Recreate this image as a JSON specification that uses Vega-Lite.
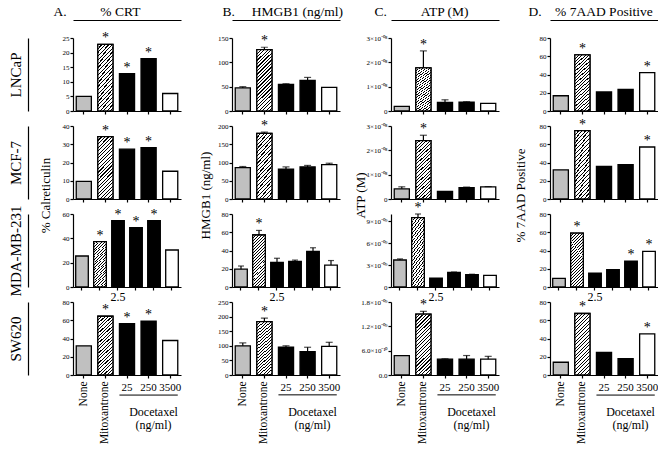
{
"$schema":"https://vega.github.io/schema/vega-lite/v6.json",
"padding":{"left":8,"top":4,"right":0,"bottom":0},
"data":{"values":[
{"line":"LNCaP","assay":"CRT","trt":"None","v":5,"hi":5,"s":0},
{"line":"LNCaP","assay":"CRT","trt":"Mitoxantrone","v":22.8,"hi":22.8,"s":1},
{"line":"LNCaP","assay":"CRT","trt":"25","v":12.8,"hi":12.8,"s":1},
{"line":"LNCaP","assay":"CRT","trt":"250","v":17.9,"hi":17.9,"s":1},
{"line":"LNCaP","assay":"CRT","trt":"3500","v":6,"hi":6,"s":0},
{"line":"LNCaP","assay":"HMGB1","trt":"None","v":47.5,"hi":50,"s":0},
{"line":"LNCaP","assay":"HMGB1","trt":"Mitoxantrone","v":126,"hi":131,"s":1},
{"line":"LNCaP","assay":"HMGB1","trt":"25","v":54.5,"hi":56,"s":0},
{"line":"LNCaP","assay":"HMGB1","trt":"250","v":63,"hi":69,"s":0},
{"line":"LNCaP","assay":"HMGB1","trt":"3500","v":48.5,"hi":48.5,"s":0},
{"line":"LNCaP","assay":"ATP","trt":"None","v":1.9e-9,"hi":1.9e-9,"s":0},
{"line":"LNCaP","assay":"ATP","trt":"Mitoxantrone","v":1.77e-8,"hi":2.47e-8,"s":1},
{"line":"LNCaP","assay":"ATP","trt":"25","v":3.5e-9,"hi":4.6e-9,"s":0},
{"line":"LNCaP","assay":"ATP","trt":"250","v":3.6e-9,"hi":3.8e-9,"s":0},
{"line":"LNCaP","assay":"ATP","trt":"3500","v":3.1e-9,"hi":3.1e-9,"s":0},
{"line":"LNCaP","assay":"7AAD","trt":"None","v":16.7,"hi":16.7,"s":0},
{"line":"LNCaP","assay":"7AAD","trt":"Mitoxantrone","v":61.4,"hi":61.4,"s":1},
{"line":"LNCaP","assay":"7AAD","trt":"25","v":20.8,"hi":20.8,"s":0},
{"line":"LNCaP","assay":"7AAD","trt":"250","v":23.8,"hi":23.8,"s":0},
{"line":"LNCaP","assay":"7AAD","trt":"3500","v":42,"hi":42,"s":1},
{"line":"MCF-7","assay":"CRT","trt":"None","v":9.7,"hi":9.7,"s":0},
{"line":"MCF-7","assay":"CRT","trt":"Mitoxantrone","v":34.2,"hi":34.2,"s":1},
{"line":"MCF-7","assay":"CRT","trt":"25","v":27.3,"hi":27.3,"s":1},
{"line":"MCF-7","assay":"CRT","trt":"250","v":28.2,"hi":28.2,"s":1},
{"line":"MCF-7","assay":"CRT","trt":"3500","v":15.2,"hi":15.2,"s":0},
{"line":"MCF-7","assay":"HMGB1","trt":"None","v":86,"hi":89,"s":0},
{"line":"MCF-7","assay":"HMGB1","trt":"Mitoxantrone","v":180,"hi":183,"s":1},
{"line":"MCF-7","assay":"HMGB1","trt":"25","v":82,"hi":88,"s":0},
{"line":"MCF-7","assay":"HMGB1","trt":"250","v":88,"hi":92,"s":0},
{"line":"MCF-7","assay":"HMGB1","trt":"3500","v":94,"hi":98,"s":0},
{"line":"MCF-7","assay":"ATP","trt":"None","v":4.2e-9,"hi":5e-9,"s":0},
{"line":"MCF-7","assay":"ATP","trt":"Mitoxantrone","v":2.4e-8,"hi":2.62e-8,"s":1},
{"line":"MCF-7","assay":"ATP","trt":"25","v":3.1e-9,"hi":3.1e-9,"s":0},
{"line":"MCF-7","assay":"ATP","trt":"250","v":4.7e-9,"hi":4.9e-9,"s":0},
{"line":"MCF-7","assay":"ATP","trt":"3500","v":5e-9,"hi":5.1e-9,"s":0},
{"line":"MCF-7","assay":"7AAD","trt":"None","v":32,"hi":32,"s":0},
{"line":"MCF-7","assay":"7AAD","trt":"Mitoxantrone","v":75,"hi":75,"s":1},
{"line":"MCF-7","assay":"7AAD","trt":"25","v":35.8,"hi":35.8,"s":0},
{"line":"MCF-7","assay":"7AAD","trt":"250","v":37.7,"hi":37.7,"s":0},
{"line":"MCF-7","assay":"7AAD","trt":"3500","v":57,"hi":57,"s":1},
{"line":"MDA-MB-231","assay":"CRT","trt":"None","v":25.5,"hi":25.5,"s":0},
{"line":"MDA-MB-231","assay":"CRT","trt":"Mitoxantrone","v":37.3,"hi":37.3,"s":1},
{"line":"MDA-MB-231","assay":"CRT","trt":"2.5","v":54.5,"hi":54.5,"s":1},
{"line":"MDA-MB-231","assay":"CRT","trt":"25","v":48.8,"hi":48.8,"s":1},
{"line":"MDA-MB-231","assay":"CRT","trt":"250","v":54.5,"hi":54.5,"s":1},
{"line":"MDA-MB-231","assay":"CRT","trt":"3500","v":30.4,"hi":30.4,"s":0},
{"line":"MDA-MB-231","assay":"HMGB1","trt":"None","v":19.5,"hi":23,"s":0},
{"line":"MDA-MB-231","assay":"HMGB1","trt":"Mitoxantrone","v":57,"hi":62,"s":1},
{"line":"MDA-MB-231","assay":"HMGB1","trt":"2.5","v":27,"hi":31.5,"s":0},
{"line":"MDA-MB-231","assay":"HMGB1","trt":"25","v":28,"hi":29.5,"s":0},
{"line":"MDA-MB-231","assay":"HMGB1","trt":"250","v":39,"hi":43,"s":0},
{"line":"MDA-MB-231","assay":"HMGB1","trt":"3500","v":24,"hi":29,"s":0},
{"line":"MDA-MB-231","assay":"ATP","trt":"None","v":3.7e-9,"hi":3.85e-9,"s":0},
{"line":"MDA-MB-231","assay":"ATP","trt":"Mitoxantrone","v":9.5e-9,"hi":1e-8,"s":1},
{"line":"MDA-MB-231","assay":"ATP","trt":"2.5","v":1.2e-9,"hi":1.2e-9,"s":0},
{"line":"MDA-MB-231","assay":"ATP","trt":"25","v":2e-9,"hi":2.05e-9,"s":0},
{"line":"MDA-MB-231","assay":"ATP","trt":"250","v":1.7e-9,"hi":1.75e-9,"s":0},
{"line":"MDA-MB-231","assay":"ATP","trt":"3500","v":1.6e-9,"hi":1.6e-9,"s":0},
{"line":"MDA-MB-231","assay":"7AAD","trt":"None","v":9.4,"hi":9.4,"s":0},
{"line":"MDA-MB-231","assay":"7AAD","trt":"Mitoxantrone","v":59,"hi":59,"s":1},
{"line":"MDA-MB-231","assay":"7AAD","trt":"2.5","v":15.3,"hi":15.3,"s":0},
{"line":"MDA-MB-231","assay":"7AAD","trt":"25","v":19.1,"hi":19.1,"s":0},
{"line":"MDA-MB-231","assay":"7AAD","trt":"250","v":28.2,"hi":28.2,"s":1},
{"line":"MDA-MB-231","assay":"7AAD","trt":"3500","v":39,"hi":39,"s":1},
{"line":"SW620","assay":"CRT","trt":"None","v":32,"hi":32,"s":0},
{"line":"SW620","assay":"CRT","trt":"Mitoxantrone","v":64.4,"hi":64.4,"s":1},
{"line":"SW620","assay":"CRT","trt":"25","v":56.3,"hi":56.3,"s":1},
{"line":"SW620","assay":"CRT","trt":"250","v":58.9,"hi":58.9,"s":1},
{"line":"SW620","assay":"CRT","trt":"3500","v":37.8,"hi":37.8,"s":0},
{"line":"SW620","assay":"HMGB1","trt":"None","v":100,"hi":110,"s":0},
{"line":"SW620","assay":"HMGB1","trt":"Mitoxantrone","v":183,"hi":195,"s":1},
{"line":"SW620","assay":"HMGB1","trt":"25","v":95,"hi":100,"s":0},
{"line":"SW620","assay":"HMGB1","trt":"250","v":80,"hi":95,"s":0},
{"line":"SW620","assay":"HMGB1","trt":"3500","v":98,"hi":112,"s":0},
{"line":"SW620","assay":"ATP","trt":"None","v":4.8e-10,"hi":4.8e-10,"s":0},
{"line":"SW620","assay":"ATP","trt":"Mitoxantrone","v":1.5e-9,"hi":1.57e-9,"s":1},
{"line":"SW620","assay":"ATP","trt":"25","v":3.9e-10,"hi":4e-10,"s":0},
{"line":"SW620","assay":"ATP","trt":"250","v":3.9e-10,"hi":4.8e-10,"s":0},
{"line":"SW620","assay":"ATP","trt":"3500","v":3.9e-10,"hi":4.6e-10,"s":0},
{"line":"SW620","assay":"7AAD","trt":"None","v":14,"hi":14,"s":0},
{"line":"SW620","assay":"7AAD","trt":"Mitoxantrone","v":67.4,"hi":67.4,"s":1},
{"line":"SW620","assay":"7AAD","trt":"25","v":24.8,"hi":24.8,"s":0},
{"line":"SW620","assay":"7AAD","trt":"250","v":17.9,"hi":17.9,"s":0},
{"line":"SW620","assay":"7AAD","trt":"3500","v":45,"hi":45,"s":1}
]},
"columns":4,
"spacing":{"row":15,"column":51},
"bounds":"flush",
"concat":[
{"width":108,"height":73,
"transform":[{"filter":"datum.line==='LNCaP'&&datum.assay==='CRT'"}],
"encoding":{"x":{"field":"trt","type":"nominal","scale":{"domain":["None","Mitoxantrone","25","250","3500"],"paddingInner":0.3,"paddingOuter":0.15},"axis":null},"y":{"field":"v","type":"quantitative","scale":{"domain":[0,25],"nice":false},"axis":null}},
"layer":[
{"mark":{"type":"bar","stroke":"black","strokeWidth":1.3},"encoding":{"x":{"field":"trt","type":"nominal","scale":{"domain":["None","Mitoxantrone","25","250","3500"],"paddingInner":0.3,"paddingOuter":0.15},"axis":{"labels":false,"title":null}},"y":{"field":"v","type":"quantitative","scale":{"domain":[0,25],"nice":false},"axis":{"values":[0,5,10,15,20,25],"title":null}},"fill":{"field":"trt","type":"nominal","scale":{"domain":["None","Mitoxantrone","2.5","25","250","3500"],"range":["#c0c0c0","#ffffff","#000000","#000000","#000000","#ffffff"]},"legend":null}}},
{"mark":{"type":"bar","style":"hatch"},"transform":[{"filter":"datum.trt==='Mitoxantrone'"}],"encoding":{"x":{"field":"trt","type":"nominal","scale":{"domain":["None","Mitoxantrone","25","250","3500"],"paddingInner":0.3,"paddingOuter":0.15},"axis":{"orient":"top","offset":18,"ticks":false,"labels":false,"domain":true,"title":"A.\u00a0\u00a0\u00a0\u00a0\u00a0\u00a0\u00a0\u00a0\u00a0\u00a0% CRT","titleFontSize":13.5,"titleX":-20,"titleY":-5,"titleAlign":"left","titleBaseline":"alphabetic"}},"y":{"field":"v","type":"quantitative","scale":{"domain":[0,25],"nice":false},"axis":{"orient":"left","offset":45,"ticks":false,"labels":false,"domain":true,"title":"LNCaP","titleFontSize":15,"titlePadding":5}}}},
{"mark":{"type":"rule","color":"black","strokeWidth":1.2},"transform":[{"filter":"datum.hi>datum.v"}],"encoding":{"y2":{"field":"hi"}}},
{"mark":{"type":"tick","color":"black","thickness":1.2,"size":7},"transform":[{"filter":"datum.hi>datum.v"}],"encoding":{"y":{"field":"hi","type":"quantitative","scale":{"domain":[0,25],"nice":false},"axis":null}}},
{"mark":{"type":"text","text":"*","fontSize":14,"dy":-2,"baseline":"alphabetic","color":"black"},"transform":[{"filter":"datum.s===1"}],"encoding":{"y":{"field":"hi","type":"quantitative","scale":{"domain":[0,25],"nice":false},"axis":null}}}
],
"resolve":{"axis":{"x":"independent","y":"independent"}}},

{"width":108,"height":73,
"transform":[{"filter":"datum.line==='LNCaP'&&datum.assay==='HMGB1'"}],
"encoding":{"x":{"field":"trt","type":"nominal","scale":{"domain":["None","Mitoxantrone","25","250","3500"],"paddingInner":0.3,"paddingOuter":0.15},"axis":null},"y":{"field":"v","type":"quantitative","scale":{"domain":[0,150],"nice":false},"axis":null}},
"layer":[
{"mark":{"type":"bar","stroke":"black","strokeWidth":1.3},"encoding":{"x":{"field":"trt","type":"nominal","scale":{"domain":["None","Mitoxantrone","25","250","3500"],"paddingInner":0.3,"paddingOuter":0.15},"axis":{"labels":false,"title":null}},"y":{"field":"v","type":"quantitative","scale":{"domain":[0,150],"nice":false},"axis":{"values":[0,50,100,150],"title":null}},"fill":{"field":"trt","type":"nominal","scale":{"domain":["None","Mitoxantrone","2.5","25","250","3500"],"range":["#c0c0c0","#ffffff","#000000","#000000","#000000","#ffffff"]},"legend":null}}},
{"mark":{"type":"bar","style":"hatch"},"transform":[{"filter":"datum.trt==='Mitoxantrone'"}],"encoding":{"x":{"field":"trt","type":"nominal","scale":{"domain":["None","Mitoxantrone","25","250","3500"],"paddingInner":0.3,"paddingOuter":0.15},"axis":{"orient":"top","offset":18,"ticks":false,"labels":false,"domain":true,"title":"B.\u00a0\u00a0\u00a0\u00a0\u00a0HMGB1 (ng/ml)","titleFontSize":13.5,"titleX":-10,"titleY":-5,"titleAlign":"left","titleBaseline":"alphabetic"}}}},
{"mark":{"type":"rule","color":"black","strokeWidth":1.2},"transform":[{"filter":"datum.hi>datum.v"}],"encoding":{"y2":{"field":"hi"}}},
{"mark":{"type":"tick","color":"black","thickness":1.2,"size":7},"transform":[{"filter":"datum.hi>datum.v"}],"encoding":{"y":{"field":"hi","type":"quantitative","scale":{"domain":[0,150],"nice":false},"axis":null}}},
{"mark":{"type":"text","text":"*","fontSize":14,"dy":-2,"baseline":"alphabetic","color":"black"},"transform":[{"filter":"datum.s===1"}],"encoding":{"y":{"field":"hi","type":"quantitative","scale":{"domain":[0,150],"nice":false},"axis":null}}}
],
"resolve":{"axis":{"x":"independent","y":"independent"}}},

{"width":108,"height":73,
"transform":[{"filter":"datum.line==='LNCaP'&&datum.assay==='ATP'"}],
"encoding":{"x":{"field":"trt","type":"nominal","scale":{"domain":["None","Mitoxantrone","25","250","3500"],"paddingInner":0.3,"paddingOuter":0.15},"axis":null},"y":{"field":"v","type":"quantitative","scale":{"domain":[0,3e-8],"nice":false},"axis":null}},
"layer":[
{"mark":{"type":"bar","stroke":"black","strokeWidth":1.3},"encoding":{"x":{"field":"trt","type":"nominal","scale":{"domain":["None","Mitoxantrone","25","250","3500"],"paddingInner":0.3,"paddingOuter":0.15},"axis":{"labels":false,"title":null}},"y":{"field":"v","type":"quantitative","scale":{"domain":[0,3e-8],"nice":false},"axis":{"values":[0,1e-8,2e-8,3e-8],"title":null,"labelExpr":"datum.value===0?'0':format(datum.value*1e8,'.0f')+'×10⁻⁰⁸'"}},"fill":{"field":"trt","type":"nominal","scale":{"domain":["None","Mitoxantrone","2.5","25","250","3500"],"range":["#c0c0c0","#ffffff","#000000","#000000","#000000","#ffffff"]},"legend":null}}},
{"mark":{"type":"bar","style":"hatch"},"transform":[{"filter":"datum.trt==='Mitoxantrone'"}],"encoding":{"x":{"field":"trt","type":"nominal","scale":{"domain":["None","Mitoxantrone","25","250","3500"],"paddingInner":0.3,"paddingOuter":0.15},"axis":{"orient":"top","offset":18,"ticks":false,"labels":false,"domain":true,"title":"C.\u00a0\u00a0\u00a0\u00a0\u00a0\u00a0\u00a0\u00a0\u00a0\u00a0ATP (M)","titleFontSize":13.5,"titleX":-17,"titleY":-5,"titleAlign":"left","titleBaseline":"alphabetic"}}}},
{"mark":{"type":"rule","color":"black","strokeWidth":1.2},"transform":[{"filter":"datum.hi>datum.v"}],"encoding":{"y2":{"field":"hi"}}},
{"mark":{"type":"tick","color":"black","thickness":1.2,"size":7},"transform":[{"filter":"datum.hi>datum.v"}],"encoding":{"y":{"field":"hi","type":"quantitative","scale":{"domain":[0,3e-8],"nice":false},"axis":null}}},
{"mark":{"type":"text","text":"*","fontSize":14,"dy":-2,"baseline":"alphabetic","color":"black"},"transform":[{"filter":"datum.s===1"}],"encoding":{"y":{"field":"hi","type":"quantitative","scale":{"domain":[0,3e-8],"nice":false},"axis":null}}}
],
"resolve":{"axis":{"x":"independent","y":"independent"}}},

{"width":108,"height":73,
"transform":[{"filter":"datum.line==='LNCaP'&&datum.assay==='7AAD'"}],
"encoding":{"x":{"field":"trt","type":"nominal","scale":{"domain":["None","Mitoxantrone","25","250","3500"],"paddingInner":0.3,"paddingOuter":0.15},"axis":null},"y":{"field":"v","type":"quantitative","scale":{"domain":[0,80],"nice":false},"axis":null}},
"layer":[
{"mark":{"type":"bar","stroke":"black","strokeWidth":1.3},"encoding":{"x":{"field":"trt","type":"nominal","scale":{"domain":["None","Mitoxantrone","25","250","3500"],"paddingInner":0.3,"paddingOuter":0.15},"axis":{"labels":false,"title":null}},"y":{"field":"v","type":"quantitative","scale":{"domain":[0,80],"nice":false},"axis":{"values":[0,20,40,60,80],"title":null}},"fill":{"field":"trt","type":"nominal","scale":{"domain":["None","Mitoxantrone","2.5","25","250","3500"],"range":["#c0c0c0","#ffffff","#000000","#000000","#000000","#ffffff"]},"legend":null}}},
{"mark":{"type":"bar","style":"hatch"},"transform":[{"filter":"datum.trt==='Mitoxantrone'"}],"encoding":{"x":{"field":"trt","type":"nominal","scale":{"domain":["None","Mitoxantrone","25","250","3500"],"paddingInner":0.3,"paddingOuter":0.15},"axis":{"orient":"top","offset":18,"ticks":false,"labels":false,"domain":true,"title":"D.\u00a0\u00a0\u00a0\u00a0% 7AAD Positive","titleFontSize":13.5,"titleX":-22,"titleY":-5,"titleAlign":"left","titleBaseline":"alphabetic"}}}},
{"mark":{"type":"rule","color":"black","strokeWidth":1.2},"transform":[{"filter":"datum.hi>datum.v"}],"encoding":{"y2":{"field":"hi"}}},
{"mark":{"type":"tick","color":"black","thickness":1.2,"size":7},"transform":[{"filter":"datum.hi>datum.v"}],"encoding":{"y":{"field":"hi","type":"quantitative","scale":{"domain":[0,80],"nice":false},"axis":null}}},
{"mark":{"type":"text","text":"*","fontSize":14,"dy":-2,"baseline":"alphabetic","color":"black"},"transform":[{"filter":"datum.s===1"}],"encoding":{"y":{"field":"hi","type":"quantitative","scale":{"domain":[0,80],"nice":false},"axis":null}}}
],
"resolve":{"axis":{"x":"independent","y":"independent"}}},

{"width":108,"height":73,
"transform":[{"filter":"datum.line==='MCF-7'&&datum.assay==='CRT'"}],
"encoding":{"x":{"field":"trt","type":"nominal","scale":{"domain":["None","Mitoxantrone","25","250","3500"],"paddingInner":0.3,"paddingOuter":0.15},"axis":null},"y":{"field":"v","type":"quantitative","scale":{"domain":[0,40],"nice":false},"axis":null}},
"layer":[
{"mark":{"type":"bar","stroke":"black","strokeWidth":1.3},"encoding":{"x":{"field":"trt","type":"nominal","scale":{"domain":["None","Mitoxantrone","25","250","3500"],"paddingInner":0.3,"paddingOuter":0.15},"axis":{"labels":false,"title":null}},"y":{"field":"v","type":"quantitative","scale":{"domain":[0,40],"nice":false},"axis":{"values":[0,10,20,30,40],"title":"% Calreticulin","titleFontSize":13,"titleX":-21,"titleY":69,"titleAngle":270,"titleAlign":"center","titleBaseline":"bottom"}},"fill":{"field":"trt","type":"nominal","scale":{"domain":["None","Mitoxantrone","2.5","25","250","3500"],"range":["#c0c0c0","#ffffff","#000000","#000000","#000000","#ffffff"]},"legend":null}}},
{"mark":{"type":"bar","style":"hatch"},"transform":[{"filter":"datum.trt==='Mitoxantrone'"}],"encoding":{"y":{"field":"v","type":"quantitative","scale":{"domain":[0,40],"nice":false},"axis":{"orient":"left","offset":45,"ticks":false,"labels":false,"domain":true,"title":"MCF-7","titleFontSize":15,"titlePadding":5}}}},
{"mark":{"type":"rule","color":"black","strokeWidth":1.2},"transform":[{"filter":"datum.hi>datum.v"}],"encoding":{"y2":{"field":"hi"}}},
{"mark":{"type":"tick","color":"black","thickness":1.2,"size":7},"transform":[{"filter":"datum.hi>datum.v"}],"encoding":{"y":{"field":"hi","type":"quantitative","scale":{"domain":[0,40],"nice":false},"axis":null}}},
{"mark":{"type":"text","text":"*","fontSize":14,"dy":-2,"baseline":"alphabetic","color":"black"},"transform":[{"filter":"datum.s===1"}],"encoding":{"y":{"field":"hi","type":"quantitative","scale":{"domain":[0,40],"nice":false},"axis":null}}}
],
"resolve":{"axis":{"x":"independent","y":"independent"}}},

{"width":108,"height":73,
"transform":[{"filter":"datum.line==='MCF-7'&&datum.assay==='HMGB1'"}],
"encoding":{"x":{"field":"trt","type":"nominal","scale":{"domain":["None","Mitoxantrone","25","250","3500"],"paddingInner":0.3,"paddingOuter":0.15},"axis":null},"y":{"field":"v","type":"quantitative","scale":{"domain":[0,200],"nice":false},"axis":null}},
"layer":[
{"mark":{"type":"bar","stroke":"black","strokeWidth":1.3},"encoding":{"x":{"field":"trt","type":"nominal","scale":{"domain":["None","Mitoxantrone","25","250","3500"],"paddingInner":0.3,"paddingOuter":0.15},"axis":{"labels":false,"title":null}},"y":{"field":"v","type":"quantitative","scale":{"domain":[0,200],"nice":false},"axis":{"values":[0,50,100,150,200],"title":"HMGB1 (ng/ml)","titleFontSize":13,"titleX":-20,"titleY":69,"titleAngle":270,"titleAlign":"center","titleBaseline":"bottom"}},"fill":{"field":"trt","type":"nominal","scale":{"domain":["None","Mitoxantrone","2.5","25","250","3500"],"range":["#c0c0c0","#ffffff","#000000","#000000","#000000","#ffffff"]},"legend":null}}},
{"mark":{"type":"bar","style":"hatch"},"transform":[{"filter":"datum.trt==='Mitoxantrone'"}]},
{"mark":{"type":"rule","color":"black","strokeWidth":1.2},"transform":[{"filter":"datum.hi>datum.v"}],"encoding":{"y2":{"field":"hi"}}},
{"mark":{"type":"tick","color":"black","thickness":1.2,"size":7},"transform":[{"filter":"datum.hi>datum.v"}],"encoding":{"y":{"field":"hi","type":"quantitative","scale":{"domain":[0,200],"nice":false},"axis":null}}},
{"mark":{"type":"text","text":"*","fontSize":14,"dy":-2,"baseline":"alphabetic","color":"black"},"transform":[{"filter":"datum.s===1"}],"encoding":{"y":{"field":"hi","type":"quantitative","scale":{"domain":[0,200],"nice":false},"axis":null}}}
],
"resolve":{"axis":{"x":"independent","y":"independent"}}},

{"width":108,"height":73,
"transform":[{"filter":"datum.line==='MCF-7'&&datum.assay==='ATP'"}],
"encoding":{"x":{"field":"trt","type":"nominal","scale":{"domain":["None","Mitoxantrone","25","250","3500"],"paddingInner":0.3,"paddingOuter":0.15},"axis":null},"y":{"field":"v","type":"quantitative","scale":{"domain":[0,3e-8],"nice":false},"axis":null}},
"layer":[
{"mark":{"type":"bar","stroke":"black","strokeWidth":1.3},"encoding":{"x":{"field":"trt","type":"nominal","scale":{"domain":["None","Mitoxantrone","25","250","3500"],"paddingInner":0.3,"paddingOuter":0.15},"axis":{"labels":false,"title":null}},"y":{"field":"v","type":"quantitative","scale":{"domain":[0,3e-8],"nice":false},"axis":{"values":[0,1e-8,2e-8,3e-8],"labelExpr":"datum.value===0?'0':format(datum.value*1e8,'.0f')+'×10⁻⁰⁸'","title":"ATP (M)","titleFontSize":13,"titleX":-24,"titleY":69,"titleAngle":270,"titleAlign":"center","titleBaseline":"bottom"}},"fill":{"field":"trt","type":"nominal","scale":{"domain":["None","Mitoxantrone","2.5","25","250","3500"],"range":["#c0c0c0","#ffffff","#000000","#000000","#000000","#ffffff"]},"legend":null}}},
{"mark":{"type":"bar","style":"hatch"},"transform":[{"filter":"datum.trt==='Mitoxantrone'"}]},
{"mark":{"type":"rule","color":"black","strokeWidth":1.2},"transform":[{"filter":"datum.hi>datum.v"}],"encoding":{"y2":{"field":"hi"}}},
{"mark":{"type":"tick","color":"black","thickness":1.2,"size":7},"transform":[{"filter":"datum.hi>datum.v"}],"encoding":{"y":{"field":"hi","type":"quantitative","scale":{"domain":[0,3e-8],"nice":false},"axis":null}}},
{"mark":{"type":"text","text":"*","fontSize":14,"dy":-2,"baseline":"alphabetic","color":"black"},"transform":[{"filter":"datum.s===1"}],"encoding":{"y":{"field":"hi","type":"quantitative","scale":{"domain":[0,3e-8],"nice":false},"axis":null}}}
],
"resolve":{"axis":{"x":"independent","y":"independent"}}},

{"width":108,"height":73,
"transform":[{"filter":"datum.line==='MCF-7'&&datum.assay==='7AAD'"}],
"encoding":{"x":{"field":"trt","type":"nominal","scale":{"domain":["None","Mitoxantrone","25","250","3500"],"paddingInner":0.3,"paddingOuter":0.15},"axis":null},"y":{"field":"v","type":"quantitative","scale":{"domain":[0,80],"nice":false},"axis":null}},
"layer":[
{"mark":{"type":"bar","stroke":"black","strokeWidth":1.3},"encoding":{"x":{"field":"trt","type":"nominal","scale":{"domain":["None","Mitoxantrone","25","250","3500"],"paddingInner":0.3,"paddingOuter":0.15},"axis":{"labels":false,"title":null}},"y":{"field":"v","type":"quantitative","scale":{"domain":[0,80],"nice":false},"axis":{"values":[0,20,40,60,80],"title":"% 7AAD Positive","titleFontSize":13,"titleX":-23,"titleY":69,"titleAngle":270,"titleAlign":"center","titleBaseline":"bottom"}},"fill":{"field":"trt","type":"nominal","scale":{"domain":["None","Mitoxantrone","2.5","25","250","3500"],"range":["#c0c0c0","#ffffff","#000000","#000000","#000000","#ffffff"]},"legend":null}}},
{"mark":{"type":"bar","style":"hatch"},"transform":[{"filter":"datum.trt==='Mitoxantrone'"}]},
{"mark":{"type":"rule","color":"black","strokeWidth":1.2},"transform":[{"filter":"datum.hi>datum.v"}],"encoding":{"y2":{"field":"hi"}}},
{"mark":{"type":"tick","color":"black","thickness":1.2,"size":7},"transform":[{"filter":"datum.hi>datum.v"}],"encoding":{"y":{"field":"hi","type":"quantitative","scale":{"domain":[0,80],"nice":false},"axis":null}}},
{"mark":{"type":"text","text":"*","fontSize":14,"dy":-2,"baseline":"alphabetic","color":"black"},"transform":[{"filter":"datum.s===1"}],"encoding":{"y":{"field":"hi","type":"quantitative","scale":{"domain":[0,80],"nice":false},"axis":null}}}
],
"resolve":{"axis":{"x":"independent","y":"independent"}}},

{"width":108,"height":73,
"transform":[{"filter":"datum.line==='MDA-MB-231'&&datum.assay==='CRT'"}],
"encoding":{"x":{"field":"trt","type":"nominal","scale":{"domain":["None","Mitoxantrone","2.5","25","250","3500"],"paddingInner":0.3,"paddingOuter":0.15},"axis":null},"y":{"field":"v","type":"quantitative","scale":{"domain":[0,60],"nice":false},"axis":null}},
"layer":[
{"mark":{"type":"bar","stroke":"black","strokeWidth":1.3},"encoding":{"x":{"field":"trt","type":"nominal","scale":{"domain":["None","Mitoxantrone","2.5","25","250","3500"],"paddingInner":0.3,"paddingOuter":0.15},"axis":{"title":null,"labelExpr":"datum.value==='2.5'?'2.5':''","labelFontSize":12,"labelPadding":1,"labelAngle":0}},"y":{"field":"v","type":"quantitative","scale":{"domain":[0,60],"nice":false},"axis":{"values":[0,20,40,60],"title":null}},"fill":{"field":"trt","type":"nominal","scale":{"domain":["None","Mitoxantrone","2.5","25","250","3500"],"range":["#c0c0c0","#ffffff","#000000","#000000","#000000","#ffffff"]},"legend":null}}},
{"mark":{"type":"bar","style":"hatch"},"transform":[{"filter":"datum.trt==='Mitoxantrone'"}],"encoding":{"y":{"field":"v","type":"quantitative","scale":{"domain":[0,60],"nice":false},"axis":{"orient":"left","offset":45,"ticks":false,"labels":false,"domain":true,"title":"MDA-MB-231","titleFontSize":15,"titlePadding":5}}}},
{"mark":{"type":"rule","color":"black","strokeWidth":1.2},"transform":[{"filter":"datum.hi>datum.v"}],"encoding":{"y2":{"field":"hi"}}},
{"mark":{"type":"tick","color":"black","thickness":1.2,"size":6},"transform":[{"filter":"datum.hi>datum.v"}],"encoding":{"y":{"field":"hi","type":"quantitative","scale":{"domain":[0,60],"nice":false},"axis":null}}},
{"mark":{"type":"text","text":"*","fontSize":14,"dy":-2,"baseline":"alphabetic","color":"black"},"transform":[{"filter":"datum.s===1"}],"encoding":{"y":{"field":"hi","type":"quantitative","scale":{"domain":[0,60],"nice":false},"axis":null}}}
],
"resolve":{"axis":{"x":"independent","y":"independent"}}},

{"width":108,"height":73,
"transform":[{"filter":"datum.line==='MDA-MB-231'&&datum.assay==='HMGB1'"}],
"encoding":{"x":{"field":"trt","type":"nominal","scale":{"domain":["None","Mitoxantrone","2.5","25","250","3500"],"paddingInner":0.3,"paddingOuter":0.15},"axis":null},"y":{"field":"v","type":"quantitative","scale":{"domain":[0,80],"nice":false},"axis":null}},
"layer":[
{"mark":{"type":"bar","stroke":"black","strokeWidth":1.3},"encoding":{"x":{"field":"trt","type":"nominal","scale":{"domain":["None","Mitoxantrone","2.5","25","250","3500"],"paddingInner":0.3,"paddingOuter":0.15},"axis":{"title":null,"labelExpr":"datum.value==='2.5'?'2.5':''","labelFontSize":12,"labelPadding":1,"labelAngle":0}},"y":{"field":"v","type":"quantitative","scale":{"domain":[0,80],"nice":false},"axis":{"values":[0,20,40,60,80],"title":null}},"fill":{"field":"trt","type":"nominal","scale":{"domain":["None","Mitoxantrone","2.5","25","250","3500"],"range":["#c0c0c0","#ffffff","#000000","#000000","#000000","#ffffff"]},"legend":null}}},
{"mark":{"type":"bar","style":"hatch"},"transform":[{"filter":"datum.trt==='Mitoxantrone'"}]},
{"mark":{"type":"rule","color":"black","strokeWidth":1.2},"transform":[{"filter":"datum.hi>datum.v"}],"encoding":{"y2":{"field":"hi"}}},
{"mark":{"type":"tick","color":"black","thickness":1.2,"size":6},"transform":[{"filter":"datum.hi>datum.v"}],"encoding":{"y":{"field":"hi","type":"quantitative","scale":{"domain":[0,80],"nice":false},"axis":null}}},
{"mark":{"type":"text","text":"*","fontSize":14,"dy":-2,"baseline":"alphabetic","color":"black"},"transform":[{"filter":"datum.s===1"}],"encoding":{"y":{"field":"hi","type":"quantitative","scale":{"domain":[0,80],"nice":false},"axis":null}}}
],
"resolve":{"axis":{"x":"independent","y":"independent"}}},

{"width":108,"height":73,
"transform":[{"filter":"datum.line==='MDA-MB-231'&&datum.assay==='ATP'"}],
"encoding":{"x":{"field":"trt","type":"nominal","scale":{"domain":["None","Mitoxantrone","2.5","25","250","3500"],"paddingInner":0.3,"paddingOuter":0.15},"axis":null},"y":{"field":"v","type":"quantitative","scale":{"domain":[0,1e-8],"nice":false},"axis":null}},
"layer":[
{"mark":{"type":"bar","stroke":"black","strokeWidth":1.3},"encoding":{"x":{"field":"trt","type":"nominal","scale":{"domain":["None","Mitoxantrone","2.5","25","250","3500"],"paddingInner":0.3,"paddingOuter":0.15},"axis":{"title":null,"labelExpr":"datum.value==='2.5'?'2.5':''","labelFontSize":12,"labelPadding":1,"labelAngle":0}},"y":{"field":"v","type":"quantitative","scale":{"domain":[0,1e-8],"nice":false},"axis":{"values":[0,3e-9,6e-9,9e-9],"title":null,"labelExpr":"datum.value===0?'0':format(datum.value*1e9,'.0f')+'×10⁻⁰⁹'"}},"fill":{"field":"trt","type":"nominal","scale":{"domain":["None","Mitoxantrone","2.5","25","250","3500"],"range":["#c0c0c0","#ffffff","#000000","#000000","#000000","#ffffff"]},"legend":null}}},
{"mark":{"type":"bar","style":"hatch"},"transform":[{"filter":"datum.trt==='Mitoxantrone'"}]},
{"mark":{"type":"rule","color":"black","strokeWidth":1.2},"transform":[{"filter":"datum.hi>datum.v"}],"encoding":{"y2":{"field":"hi"}}},
{"mark":{"type":"tick","color":"black","thickness":1.2,"size":6},"transform":[{"filter":"datum.hi>datum.v"}],"encoding":{"y":{"field":"hi","type":"quantitative","scale":{"domain":[0,1e-8],"nice":false},"axis":null}}},
{"mark":{"type":"text","text":"*","fontSize":14,"dy":-2,"baseline":"alphabetic","color":"black"},"transform":[{"filter":"datum.s===1"}],"encoding":{"y":{"field":"hi","type":"quantitative","scale":{"domain":[0,1e-8],"nice":false},"axis":null}}}
],
"resolve":{"axis":{"x":"independent","y":"independent"}}},

{"width":108,"height":73,
"transform":[{"filter":"datum.line==='MDA-MB-231'&&datum.assay==='7AAD'"}],
"encoding":{"x":{"field":"trt","type":"nominal","scale":{"domain":["None","Mitoxantrone","2.5","25","250","3500"],"paddingInner":0.3,"paddingOuter":0.15},"axis":null},"y":{"field":"v","type":"quantitative","scale":{"domain":[0,80],"nice":false},"axis":null}},
"layer":[
{"mark":{"type":"bar","stroke":"black","strokeWidth":1.3},"encoding":{"x":{"field":"trt","type":"nominal","scale":{"domain":["None","Mitoxantrone","2.5","25","250","3500"],"paddingInner":0.3,"paddingOuter":0.15},"axis":{"title":null,"labelExpr":"datum.value==='2.5'?'2.5':''","labelFontSize":12,"labelPadding":1,"labelAngle":0}},"y":{"field":"v","type":"quantitative","scale":{"domain":[0,80],"nice":false},"axis":{"values":[0,20,40,60,80],"title":null}},"fill":{"field":"trt","type":"nominal","scale":{"domain":["None","Mitoxantrone","2.5","25","250","3500"],"range":["#c0c0c0","#ffffff","#000000","#000000","#000000","#ffffff"]},"legend":null}}},
{"mark":{"type":"bar","style":"hatch"},"transform":[{"filter":"datum.trt==='Mitoxantrone'"}]},
{"mark":{"type":"rule","color":"black","strokeWidth":1.2},"transform":[{"filter":"datum.hi>datum.v"}],"encoding":{"y2":{"field":"hi"}}},
{"mark":{"type":"tick","color":"black","thickness":1.2,"size":6},"transform":[{"filter":"datum.hi>datum.v"}],"encoding":{"y":{"field":"hi","type":"quantitative","scale":{"domain":[0,80],"nice":false},"axis":null}}},
{"mark":{"type":"text","text":"*","fontSize":14,"dy":-2,"baseline":"alphabetic","color":"black"},"transform":[{"filter":"datum.s===1"}],"encoding":{"y":{"field":"hi","type":"quantitative","scale":{"domain":[0,80],"nice":false},"axis":null}}}
],
"resolve":{"axis":{"x":"independent","y":"independent"}}},

{"width":108,"height":73,
"transform":[{"filter":"datum.line==='SW620'&&datum.assay==='CRT'"}],
"encoding":{"x":{"field":"trt","type":"nominal","scale":{"domain":["None","Mitoxantrone","25","250","3500"],"paddingInner":0.3,"paddingOuter":0.15},"axis":null},"y":{"field":"v","type":"quantitative","scale":{"domain":[0,80],"nice":false},"axis":null}},
"layer":[
{"mark":{"type":"bar","stroke":"black","strokeWidth":1.3},"encoding":{"x":{"field":"trt","type":"nominal","scale":{"domain":["None","Mitoxantrone","25","250","3500"],"paddingInner":0.3,"paddingOuter":0.15},"axis":{"title":["Docetaxel","(ng/ml)"],"titleFontSize":12,"titleX":80,"titleY":40,"titleAlign":"center","titleBaseline":"alphabetic","titleLineHeight":13,"labelFontSize":11,"labelPadding":3,"labelAngle":0,"labelOverlap":false,"labelExpr":"datum.value==='None'||datum.value==='Mitoxantrone'?'':datum.label"}},"y":{"field":"v","type":"quantitative","scale":{"domain":[0,80],"nice":false},"axis":{"values":[0,20,40,60,80],"title":null}},"fill":{"field":"trt","type":"nominal","scale":{"domain":["None","Mitoxantrone","2.5","25","250","3500"],"range":["#c0c0c0","#ffffff","#000000","#000000","#000000","#ffffff"]},"legend":null}}},
{"mark":{"type":"bar","style":"hatch"},"transform":[{"filter":"datum.trt==='Mitoxantrone'"}],"encoding":{"x":{"field":"trt","type":"nominal","scale":{"domain":["None","Mitoxantrone","25","250","3500"],"paddingInner":0.3,"paddingOuter":0.15},"axis":{"orient":"bottom","domain":false,"ticks":false,"labelAngle":270,"labelFontSize":11.5,"labelPadding":6,"labelOverlap":false,"title":null,"labelExpr":"datum.value==='None'||datum.value==='Mitoxantrone'?datum.label:''"}},"y":{"field":"v","type":"quantitative","scale":{"domain":[0,80],"nice":false},"axis":{"orient":"left","offset":45,"ticks":false,"labels":false,"domain":true,"title":"SW620","titleFontSize":15,"titlePadding":5}}}},
{"mark":{"type":"rule","color":"black","strokeWidth":1.2},"transform":[{"filter":"datum.hi>datum.v"}],"encoding":{"y2":{"field":"hi"}}},
{"mark":{"type":"tick","color":"black","thickness":1.2,"size":7},"transform":[{"filter":"datum.hi>datum.v"}],"encoding":{"y":{"field":"hi","type":"quantitative","scale":{"domain":[0,80],"nice":false},"axis":null}}},
{"mark":{"type":"text","text":"*","fontSize":14,"dy":-2,"baseline":"alphabetic","color":"black"},"transform":[{"filter":"datum.s===1"}],"encoding":{"y":{"field":"hi","type":"quantitative","scale":{"domain":[0,80],"nice":false},"axis":null}}},
{"mark":{"type":"rule","color":"black","strokeWidth":1},"transform":[{"filter":"datum.trt==='None'"}],"encoding":{"x":{"datum":"25","type":"nominal","bandPosition":0,"scale":{"domain":["None","Mitoxantrone","25","250","3500"],"paddingInner":0.3,"paddingOuter":0.15},"axis":null},"x2":{"datum":"3500","bandPosition":1},"y":{"datum":-22,"type":"quantitative","scale":{"domain":[0,80],"nice":false},"axis":null}}}
],
"resolve":{"axis":{"x":"independent","y":"independent"}}},

{"width":108,"height":73,
"transform":[{"filter":"datum.line==='SW620'&&datum.assay==='HMGB1'"}],
"encoding":{"x":{"field":"trt","type":"nominal","scale":{"domain":["None","Mitoxantrone","25","250","3500"],"paddingInner":0.3,"paddingOuter":0.15},"axis":null},"y":{"field":"v","type":"quantitative","scale":{"domain":[0,250],"nice":false},"axis":null}},
"layer":[
{"mark":{"type":"bar","stroke":"black","strokeWidth":1.3},"encoding":{"x":{"field":"trt","type":"nominal","scale":{"domain":["None","Mitoxantrone","25","250","3500"],"paddingInner":0.3,"paddingOuter":0.15},"axis":{"title":["Docetaxel","(ng/ml)"],"titleFontSize":12,"titleX":80,"titleY":40,"titleAlign":"center","titleBaseline":"alphabetic","titleLineHeight":13,"labelFontSize":11,"labelPadding":3,"labelAngle":0,"labelOverlap":false,"labelExpr":"datum.value==='None'||datum.value==='Mitoxantrone'?'':datum.label"}},"y":{"field":"v","type":"quantitative","scale":{"domain":[0,250],"nice":false},"axis":{"values":[0,50,100,150,200,250],"title":null}},"fill":{"field":"trt","type":"nominal","scale":{"domain":["None","Mitoxantrone","2.5","25","250","3500"],"range":["#c0c0c0","#ffffff","#000000","#000000","#000000","#ffffff"]},"legend":null}}},
{"mark":{"type":"bar","style":"hatch"},"transform":[{"filter":"datum.trt==='Mitoxantrone'"}],"encoding":{"x":{"field":"trt","type":"nominal","scale":{"domain":["None","Mitoxantrone","25","250","3500"],"paddingInner":0.3,"paddingOuter":0.15},"axis":{"orient":"bottom","domain":false,"ticks":false,"labelAngle":270,"labelFontSize":11.5,"labelPadding":6,"labelOverlap":false,"title":null,"labelExpr":"datum.value==='None'||datum.value==='Mitoxantrone'?datum.label:''"}}}},
{"mark":{"type":"rule","color":"black","strokeWidth":1.2},"transform":[{"filter":"datum.hi>datum.v"}],"encoding":{"y2":{"field":"hi"}}},
{"mark":{"type":"tick","color":"black","thickness":1.2,"size":7},"transform":[{"filter":"datum.hi>datum.v"}],"encoding":{"y":{"field":"hi","type":"quantitative","scale":{"domain":[0,250],"nice":false},"axis":null}}},
{"mark":{"type":"text","text":"*","fontSize":14,"dy":-2,"baseline":"alphabetic","color":"black"},"transform":[{"filter":"datum.s===1"}],"encoding":{"y":{"field":"hi","type":"quantitative","scale":{"domain":[0,250],"nice":false},"axis":null}}},
{"mark":{"type":"rule","color":"black","strokeWidth":1},"transform":[{"filter":"datum.trt==='None'"}],"encoding":{"x":{"datum":"25","type":"nominal","bandPosition":0,"scale":{"domain":["None","Mitoxantrone","25","250","3500"],"paddingInner":0.3,"paddingOuter":0.15},"axis":null},"x2":{"datum":"3500","bandPosition":1},"y":{"datum":-68,"type":"quantitative","scale":{"domain":[0,250],"nice":false},"axis":null}}}
],
"resolve":{"axis":{"x":"independent","y":"independent"}}},

{"width":108,"height":73,
"transform":[{"filter":"datum.line==='SW620'&&datum.assay==='ATP'"}],
"encoding":{"x":{"field":"trt","type":"nominal","scale":{"domain":["None","Mitoxantrone","25","250","3500"],"paddingInner":0.3,"paddingOuter":0.15},"axis":null},"y":{"field":"v","type":"quantitative","scale":{"domain":[0,1.8e-9],"nice":false},"axis":null}},
"layer":[
{"mark":{"type":"bar","stroke":"black","strokeWidth":1.3},"encoding":{"x":{"field":"trt","type":"nominal","scale":{"domain":["None","Mitoxantrone","25","250","3500"],"paddingInner":0.3,"paddingOuter":0.15},"axis":{"title":["Docetaxel","(ng/ml)"],"titleFontSize":12,"titleX":80,"titleY":40,"titleAlign":"center","titleBaseline":"alphabetic","titleLineHeight":13,"labelFontSize":11,"labelPadding":3,"labelAngle":0,"labelOverlap":false,"labelExpr":"datum.value==='None'||datum.value==='Mitoxantrone'?'':datum.label"}},"y":{"field":"v","type":"quantitative","scale":{"domain":[0,1.8e-9],"nice":false},"axis":{"values":[0,6e-10,1.2e-9,1.8e-9],"title":null,"labelExpr":"datum.value===0?'0.0':datum.value<1e-9?format(datum.value*1e10,'.1f')+'×10⁻¹⁰':format(datum.value*1e9,'.1f')+'×10⁻⁰⁹'"}},"fill":{"field":"trt","type":"nominal","scale":{"domain":["None","Mitoxantrone","2.5","25","250","3500"],"range":["#c0c0c0","#ffffff","#000000","#000000","#000000","#ffffff"]},"legend":null}}},
{"mark":{"type":"bar","style":"hatch"},"transform":[{"filter":"datum.trt==='Mitoxantrone'"}],"encoding":{"x":{"field":"trt","type":"nominal","scale":{"domain":["None","Mitoxantrone","25","250","3500"],"paddingInner":0.3,"paddingOuter":0.15},"axis":{"orient":"bottom","domain":false,"ticks":false,"labelAngle":270,"labelFontSize":11.5,"labelPadding":6,"labelOverlap":false,"title":null,"labelExpr":"datum.value==='None'||datum.value==='Mitoxantrone'?datum.label:''"}}}},
{"mark":{"type":"rule","color":"black","strokeWidth":1.2},"transform":[{"filter":"datum.hi>datum.v"}],"encoding":{"y2":{"field":"hi"}}},
{"mark":{"type":"tick","color":"black","thickness":1.2,"size":7},"transform":[{"filter":"datum.hi>datum.v"}],"encoding":{"y":{"field":"hi","type":"quantitative","scale":{"domain":[0,1.8e-9],"nice":false},"axis":null}}},
{"mark":{"type":"text","text":"*","fontSize":14,"dy":-2,"baseline":"alphabetic","color":"black"},"transform":[{"filter":"datum.s===1"}],"encoding":{"y":{"field":"hi","type":"quantitative","scale":{"domain":[0,1.8e-9],"nice":false},"axis":null}}},
{"mark":{"type":"rule","color":"black","strokeWidth":1},"transform":[{"filter":"datum.trt==='None'"}],"encoding":{"x":{"datum":"25","type":"nominal","bandPosition":0,"scale":{"domain":["None","Mitoxantrone","25","250","3500"],"paddingInner":0.3,"paddingOuter":0.15},"axis":null},"x2":{"datum":"3500","bandPosition":1},"y":{"datum":-4.9e-10,"type":"quantitative","scale":{"domain":[0,1.8e-9],"nice":false},"axis":null}}}
],
"resolve":{"axis":{"x":"independent","y":"independent"}}},

{"width":108,"height":73,
"transform":[{"filter":"datum.line==='SW620'&&datum.assay==='7AAD'"}],
"encoding":{"x":{"field":"trt","type":"nominal","scale":{"domain":["None","Mitoxantrone","25","250","3500"],"paddingInner":0.3,"paddingOuter":0.15},"axis":null},"y":{"field":"v","type":"quantitative","scale":{"domain":[0,80],"nice":false},"axis":null}},
"layer":[
{"mark":{"type":"bar","stroke":"black","strokeWidth":1.3},"encoding":{"x":{"field":"trt","type":"nominal","scale":{"domain":["None","Mitoxantrone","25","250","3500"],"paddingInner":0.3,"paddingOuter":0.15},"axis":{"title":["Docetaxel","(ng/ml)"],"titleFontSize":12,"titleX":80,"titleY":40,"titleAlign":"center","titleBaseline":"alphabetic","titleLineHeight":13,"labelFontSize":11,"labelPadding":3,"labelAngle":0,"labelOverlap":false,"labelExpr":"datum.value==='None'||datum.value==='Mitoxantrone'?'':datum.label"}},"y":{"field":"v","type":"quantitative","scale":{"domain":[0,80],"nice":false},"axis":{"values":[0,20,40,60,80],"title":null}},"fill":{"field":"trt","type":"nominal","scale":{"domain":["None","Mitoxantrone","2.5","25","250","3500"],"range":["#c0c0c0","#ffffff","#000000","#000000","#000000","#ffffff"]},"legend":null}}},
{"mark":{"type":"bar","style":"hatch"},"transform":[{"filter":"datum.trt==='Mitoxantrone'"}],"encoding":{"x":{"field":"trt","type":"nominal","scale":{"domain":["None","Mitoxantrone","25","250","3500"],"paddingInner":0.3,"paddingOuter":0.15},"axis":{"orient":"bottom","domain":false,"ticks":false,"labelAngle":270,"labelFontSize":11.5,"labelPadding":6,"labelOverlap":false,"title":null,"labelExpr":"datum.value==='None'||datum.value==='Mitoxantrone'?datum.label:''"}}}},
{"mark":{"type":"rule","color":"black","strokeWidth":1.2},"transform":[{"filter":"datum.hi>datum.v"}],"encoding":{"y2":{"field":"hi"}}},
{"mark":{"type":"tick","color":"black","thickness":1.2,"size":7},"transform":[{"filter":"datum.hi>datum.v"}],"encoding":{"y":{"field":"hi","type":"quantitative","scale":{"domain":[0,80],"nice":false},"axis":null}}},
{"mark":{"type":"text","text":"*","fontSize":14,"dy":-2,"baseline":"alphabetic","color":"black"},"transform":[{"filter":"datum.s===1"}],"encoding":{"y":{"field":"hi","type":"quantitative","scale":{"domain":[0,80],"nice":false},"axis":null}}},
{"mark":{"type":"rule","color":"black","strokeWidth":1},"transform":[{"filter":"datum.trt==='None'"}],"encoding":{"x":{"datum":"25","type":"nominal","bandPosition":0,"scale":{"domain":["None","Mitoxantrone","25","250","3500"],"paddingInner":0.3,"paddingOuter":0.15},"axis":null},"x2":{"datum":"3500","bandPosition":1},"y":{"datum":-22,"type":"quantitative","scale":{"domain":[0,80],"nice":false},"axis":null}}}
],
"resolve":{"axis":{"x":"independent","y":"independent"}}}
],
"config":{
"font":"Liberation Serif",
"view":{"stroke":null},
"axis":{"domainColor":"#000","domainWidth":1.2,"tickColor":"#000","tickWidth":1.2,"tickSize":3,"labelColor":"#000","labelFont":"Liberation Serif","labelFontSize":7,"labelPadding":1,"titleColor":"#000","titleFont":"Liberation Serif","titleFontWeight":"normal","grid":false},
"style":{"hatch":{"stroke":"#000","strokeWidth":1.3,"color":{"gradient":"linear","x1":0,"y1":0,"x2":0.29,"y2":1.18,"stops":[
{"offset":0,"color":"#000"},{"offset":0.015,"color":"#000"},{"offset":0.015,"color":"#fff"},{"offset":0.0455,"color":"#fff"},
{"offset":0.0455,"color":"#000"},{"offset":0.0605,"color":"#000"},{"offset":0.0605,"color":"#fff"},{"offset":0.0909,"color":"#fff"},
{"offset":0.0909,"color":"#000"},{"offset":0.1059,"color":"#000"},{"offset":0.1059,"color":"#fff"},{"offset":0.1364,"color":"#fff"},
{"offset":0.1364,"color":"#000"},{"offset":0.1514,"color":"#000"},{"offset":0.1514,"color":"#fff"},{"offset":0.1818,"color":"#fff"},
{"offset":0.1818,"color":"#000"},{"offset":0.1968,"color":"#000"},{"offset":0.1968,"color":"#fff"},{"offset":0.2273,"color":"#fff"},
{"offset":0.2273,"color":"#000"},{"offset":0.2423,"color":"#000"},{"offset":0.2423,"color":"#fff"},{"offset":0.2727,"color":"#fff"},
{"offset":0.2727,"color":"#000"},{"offset":0.2877,"color":"#000"},{"offset":0.2877,"color":"#fff"},{"offset":0.3182,"color":"#fff"},
{"offset":0.3182,"color":"#000"},{"offset":0.3332,"color":"#000"},{"offset":0.3332,"color":"#fff"},{"offset":0.3636,"color":"#fff"},
{"offset":0.3636,"color":"#000"},{"offset":0.3786,"color":"#000"},{"offset":0.3786,"color":"#fff"},{"offset":0.4091,"color":"#fff"},
{"offset":0.4091,"color":"#000"},{"offset":0.4241,"color":"#000"},{"offset":0.4241,"color":"#fff"},{"offset":0.4545,"color":"#fff"},
{"offset":0.4545,"color":"#000"},{"offset":0.4695,"color":"#000"},{"offset":0.4695,"color":"#fff"},{"offset":0.5,"color":"#fff"},
{"offset":0.5,"color":"#000"},{"offset":0.515,"color":"#000"},{"offset":0.515,"color":"#fff"},{"offset":0.5455,"color":"#fff"},
{"offset":0.5455,"color":"#000"},{"offset":0.5605,"color":"#000"},{"offset":0.5605,"color":"#fff"},{"offset":0.5909,"color":"#fff"},
{"offset":0.5909,"color":"#000"},{"offset":0.6059,"color":"#000"},{"offset":0.6059,"color":"#fff"},{"offset":0.6364,"color":"#fff"},
{"offset":0.6364,"color":"#000"},{"offset":0.6514,"color":"#000"},{"offset":0.6514,"color":"#fff"},{"offset":0.6818,"color":"#fff"},
{"offset":0.6818,"color":"#000"},{"offset":0.6968,"color":"#000"},{"offset":0.6968,"color":"#fff"},{"offset":0.7273,"color":"#fff"},
{"offset":0.7273,"color":"#000"},{"offset":0.7423,"color":"#000"},{"offset":0.7423,"color":"#fff"},{"offset":0.7727,"color":"#fff"},
{"offset":0.7727,"color":"#000"},{"offset":0.7877,"color":"#000"},{"offset":0.7877,"color":"#fff"},{"offset":0.8182,"color":"#fff"},
{"offset":0.8182,"color":"#000"},{"offset":0.8332,"color":"#000"},{"offset":0.8332,"color":"#fff"},{"offset":0.8636,"color":"#fff"},
{"offset":0.8636,"color":"#000"},{"offset":0.8786,"color":"#000"},{"offset":0.8786,"color":"#fff"},{"offset":0.9091,"color":"#fff"},
{"offset":0.9091,"color":"#000"},{"offset":0.9241,"color":"#000"},{"offset":0.9241,"color":"#fff"},{"offset":0.9545,"color":"#fff"},
{"offset":0.9545,"color":"#000"},{"offset":0.9695,"color":"#000"},{"offset":0.9695,"color":"#fff"},{"offset":1,"color":"#fff"}]}}}
}
}
